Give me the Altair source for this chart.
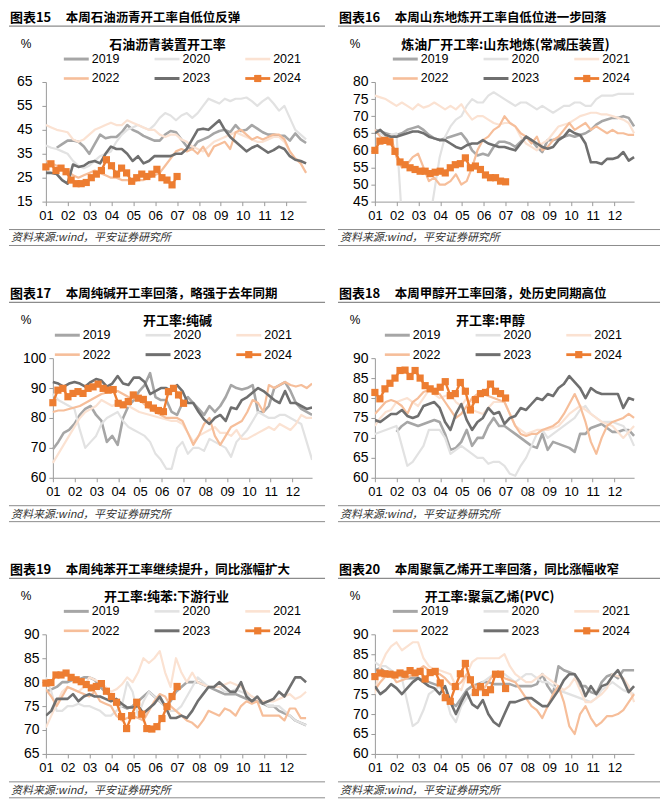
import altair as alt
import pandas as pd

CJK = "Noto Sans CJK SC"
NUM = "Liberation Sans"
AX = "#9A9A9A"
MONTHS = ["01", "02", "03", "04", "05", "06", "07", "08", "09", "10", "11", "12"]
YEARS = ["2019", "2020", "2021", "2022", "2023", "2024"]
COLORS = {"2019": "#A6A6A6", "2020": "#E2E2E2", "2021": "#FBE2D2", "2022": "#F6BE9A", "2023": "#6F6F6F", "2024": "#ED7D31"}
WIDTHS = {"2019": 2.6, "2020": 2.2, "2021": 2.2, "2022": 2.2, "2023": 2.6, "2024": 2.4}
SOURCE = "资料来源:wind，平安证券研究所"

# ---------------- panel 1: 石油沥青 ----------------
p1_2019 = [None, None, 37.5, 39, 40.5, 40.5, 40, 38, 35, 39, 43, 41.5, 42, 42, 44, 47, 45, 44, 42.5, 41.5, 40.5, 40.5, 43, 44.5, 44, 41, 38, 37, 40, 41, 42, 43.5, 44.5, 45, 44, 47, 44.5, 45, 47, 45.5, 44, 43, 43, 42.5, 42.5, 40.5, 43.5, 41, 39.5]
p1_2020 = [38.5, 37.5, 37, 36, 35, 32, 30, 29, 30, 32, 34, 35, 36, 40, 43, 45, 46, 47, 46, 45, 47, 50, 52, 51, 49, 51, 52, 50, 52, 55, 58, 57, 56, 58, 57, 58, 58, 58.5, 57, 55, 57, 58.5, 56, 53, 55, 50, 45, 43, 41]
p1_2021 = [47, 46, 45, 44.5, 44, 41, 40, 41, 43, 45, 46, 47, 48, 47, 47, 49, 48, 47, 46, 45, 45, 43, 42, 43, 43, 41, 40, 38, 37, 36, 38, 40, 41, 42, 43, 44, 43, 42, 41, 40, 40, 41, 42, 42, 40, 36, 33, 32, 31]
p1_2022 = [32, 31, 30, 29, 28, 26, 25, 26, 27, 28, 27, 26, 25, 25, 24, 24, 23, 24, 24, 25, 26, 27, 30, 33, 36, 37, 36, 37, 35, 38, 34, 38, 39, 40, 37, 44, 45, 43, 41, 42, 41, 42, 43, 43, 41, 36, 33, 31, 27]
p1_2023 = [27, 27, 26.5, 24, 22.5, 30.5, 29.5, 30, 31.5, 32, 31, 35, 38, 37, 37, 35, 32, 34, 31, 32, 34, 34, 34, 34, 35, 35, 37, 41, 45, 45.5, 45, 47, 49, 45, 42, 40, 38, 36, 37.5, 38.5, 37, 35.5, 36.5, 38, 37, 34, 32.5, 32, 31]
p1_2024 = [29.5, 30.8, 28, 29, 27.5, 24, 22.5, 22.5, 23, 25, 26.5, 28, 32.5, 30, 26.5, 29, 27, 23.5, 25, 26.5, 25.5, 26.5, 28.5, 25, 24, 22, 25.5]

# ---------------- panel 2: 山东地炼 ----------------
p2_2019 = [66, 65.5, 65, 64.5, 64.5, 65, 66, 66.5, 67, 66, 64.5, 63.5, 63, 63.5, 64, 64.5, 65, 63, 60, 58.5, 59, 58.5, 61, 62.5, 62.5, 62, 61, 62.5, 64, 63, 61, 59.5, 63, 63, 63.5, 64, 64.5, 64, 64.5, 65, 66, 67.5, 68.5, 69, 69.5, 69.5, 70, 69.5, 67]
p2_2020 = [66, 65, 64, 64.5, 65, 40, 35, 35, 35, 35, 38, 48, 58, 64, 67, 69, 70, 73, 75, 74, 74, 76, 77, 76, 75, 74, 73, 74, 74, 73, 72, 73, 72, 71, 72, 73, 73, 74, 74, 73, 73, 75, 76, 76, 76, 76.5, 76.5, 76.5, 76.5]
p2_2021 = [76, 75.5, 75, 74, 73, 74, 73, 72, 73.5, 72.5, 73, 74, 73, 72, 73, 72, 73.5, 71, 69, 70, 70, 69, 68, 67.5, 68, 68, 67, 64, 62, 61, 60, 62, 63, 65, 67, 67.5, 68, 69, 70, 70.5, 71, 71, 70.5, 70.5, 70, 69.5, 69, 68, 65]
p2_2022 = [66, 64, 63, 64, 58, 55, 56, 58, 59, 55, 51, 52, 50, 50, 51, 53, 50, 51, 55, 60, 63, 64, 66, 67, 70, 68, 67, 65, 64, 62, 64, 60, 61, 63, 64, 66, 68, 66, 67, 68, 66, 67, 66, 65, 66, 65, 65, 64.5, 64.5]
p2_2023 = [65, 66, 64.5, 64, 64, 64.5, 65, 65.5, 65.5, 65, 64, 63.5, 63, 63, 62, 61, 60.5, 61.5, 62, 62, 63, 62, 61.5, 61, 61, 60.5, 60, 62, 64, 63, 62, 61, 60.5, 61, 63, 64, 66, 65, 64.5, 62, 56.5, 56.5, 56, 57.5, 57.5, 58, 59.5, 57, 58]
p2_2024 = [60, 62.7, 62.9, 62.5, 59.7, 56.6, 55.8, 54.9, 54.4, 53.9, 53.9, 53.2, 53.6, 53.9, 53.4, 54.9, 55.8, 56.1, 57.8, 54.9, 55.4, 54.4, 52.8, 52.0, 52.0, 51.0, 50.8]

# ---------------- panel 3: 纯碱 ----------------
p3_2019 = [69.5, 72, 75, 76, 78, 81, 83, 84, 81, 79, 72, 74, 71, 80, 84, 86, 89, 91, 95, 87, 86, 86, 82, 81, 85, 87, 85, 83, 81, 84, 82, 84, 87, 91, 90, 89.5, 90, 91, 82, 82, 84, 90, 91, 92, 89, 85, 83, 82, 81]
p3_2020 = [88, 86, 85, 84, 83, 76, 70, 72, 74, 78, 80, 81, 82, 79, 77, 76, 75, 74, 72, 68, 66, 63, 63, 70, 72, 68, 70, 70, 69, 73, 72, 71, 70, 67, 72, 74, 76, 79, 82, 81, 80, 80, 81, 81, 80, 79, 78, 72, 66]
p3_2021 = [65, 68, 71, 74, 77, 80, 82, 83, 84, 86, 85, 84, 85, 84.5, 84, 83, 82, 81.5, 81, 80.5, 80, 79.5, 79, 79, 78, 75, 72, 74, 75, 76, 77, 75, 75, 74, 76, 73, 73, 74, 75, 76, 77, 76, 78, 77, 76, 78, 81, 80, 80]
p3_2022 = [82, 82.5, 82.5, 83, 83.5, 84, 85, 86, 87, 88, 88.5, 89, 89, 88, 87, 86.5, 86, 84.5, 83, 82, 81, 80, 80, 80, 79, 75, 71, 74, 78, 80, 74, 71, 74, 77, 78, 79, 82, 86, 85, 82, 91, 90, 91, 92, 91, 90.5, 91, 90, 91.5]
p3_2023 = [92, 91.5, 90.5, 91.5, 92, 91.5, 90.5, 92, 93, 92.5, 90.5, 91.5, 94, 91.5, 91, 93.5, 93.5, 92, 88, 89, 90, 90, 89, 91, 89, 85, 85, 82, 79.5, 78, 80, 81, 79, 83.5, 83, 86, 87, 88.5, 90, 89, 87.5, 86, 85, 89, 85, 85, 84, 83, 83.5]
p3_2024 = [85.1, 89.3, 89.9, 87.1, 88.2, 88.8, 88.2, 89.9, 90.4, 91.3, 89.9, 89.3, 89.5, 84.9, 84.4, 85.5, 87.7, 86.6, 86.2, 84.4, 83.3, 82.5, 82.1, 88.8, 89.9, 87.7, 84.9]

# ---------------- panel 4: 甲醇 ----------------
p4_2019 = [None, None, None, None, 71.5, 73, 74, 73.5, 73, 73.5, 74, 74.5, 74, 71, 67, 67.5, 69, 72, 68, 70, 70, 73, 75, 73, 73, 72, 71, 70, 69, 68, 67.5, 71, 67, 69, 68.5, 68, 67.5, 66.5, 71, 71, 72.5, 73, 73.5, 72.5, 71.5, 71.5, 72, 72, 70.5]
p4_2020 = [71, 71.5, 72, 72.5, 73, 68, 63, 64, 66, 68, 72, 72, 72, 70, 66, 67, 68, 67, 66, 65, 65, 63.5, 64, 64, 63, 61, 60.5, 63, 65, 68, 71, 72, 70, 71, 72, 73, 74, 75, 77, 78, 76, 75, 74, 74, 74, 73.5, 73, 71, 68]
p4_2021 = [73, 75, 76.5, 77, 79, 79.5, 80, 79, 78, 80, 82, 81, 80, 80.5, 81, 79, 78, 80, 77, 76.5, 76, 77.5, 79, 79, 79, 76, 73, 72, 71, 71.5, 72, 72, 72, 72.5, 73, 74.5, 76, 77, 78, 77, 76, 75, 74, 73.5, 73, 71.5, 70, 71.5, 73]
p4_2022 = [76, 77.5, 79, 79.5, 79, 78, 76, 79, 80, 81.5, 82, 81.5, 81, 79, 77, 75, 76, 78, 80, 81, 81, 80.5, 80, 79.5, 79, 76, 73, 71, 70.5, 71, 71, 72, 72.5, 73, 74, 76, 78.5, 81, 78, 74, 69, 66, 70, 73, 74, 74.5, 75, 76, 75]
p4_2023 = [74.5, 74, 75, 76, 76, 77, 75.5, 75, 75.5, 78, 78.5, 79, 77.5, 74, 72, 76, 78.5, 74.5, 72, 74, 75, 77.5, 76, 76.5, 73.5, 75, 75.5, 77.5, 77, 78.5, 80, 79.5, 81, 80.5, 82.5, 83.5, 85.5, 84, 82.5, 80, 82.5, 81.5, 81, 81, 81, 81, 77.5, 80, 79.5]
p4_2024 = [81.4, 79.8, 82.3, 83.7, 85, 86.9, 87, 85.4, 86.9, 85, 83.1, 82.3, 81.7, 82.7, 84.1, 80.6, 81.1, 83.9, 81.7, 77, 79.6, 81.1, 81.4, 83.5, 81.7, 81.1, 80]

# ---------------- panel 5: 纯苯 ----------------
p5_2019 = [78, 78.5, 79, 80, 80, 80.5, 80.5, 81, 81, 80.5, 79, 78, 77, 76, 75, 74.5, 75, 76, 77, 78, 77, 76, 75, 76, 78, 79, 80, 80, 80, 79.5, 79, 78.5, 78, 77.5, 77.5, 77.5, 77, 76.5, 76, 76, 75.5, 75, 75, 74, 73.5, 73, 72, 71.5, 71]
p5_2020 = [81, 78, 74, 74, 75, 75, 75.5, 75, 75, 74.5, 74, 73, 73, 74, 75, 80, 78, 73, 76, 78, 77, 76, 75, 74, 74, 75, 77, 79, 81, 80, 79, 79, 79, 78, 78, 78.5, 78, 77.5, 77, 76.5, 76, 75, 75, 75, 74, 73, 72, 71.5, 71]
p5_2021 = [70.5, 73, 75.5, 78, 79, 78.5, 78, 79, 81, 80.5, 80, 79, 78, 78.5, 79.5, 81, 80, 82, 85, 84, 85, 86.5, 82, 79, 85, 82, 80, 82, 80, 79.5, 79, 79, 79, 79.5, 80, 79.5, 79, 78, 77, 76.5, 76, 76, 76, 76.5, 77, 77.5, 76.5, 77, 78]
p5_2022 = [78.5, 77, 75, 77, 79, 78.5, 78, 77.5, 77, 78, 76, 75.5, 75, 73, 72, 72.5, 73, 72.5, 72, 74, 76, 77.5, 77, 75, 74, 73, 72, 71.5, 70.5, 72, 74, 73.5, 73, 74.5, 74, 73, 75, 76, 75.5, 76, 73, 73, 73, 73, 72, 74.5, 74.5, 72.5, 72.5]
p5_2023 = [73, 74, 76.5, 76.5, 76.5, 77.5, 76, 77, 77.5, 77, 77, 76.5, 76, 76.5, 75.5, 74.7, 74.7, 75, 73.5, 74.5, 75.5, 77, 75, 72.5, 72.5, 73, 72.5, 74, 76, 77.5, 79, 79, 80, 79, 78, 78, 80, 77, 76, 77, 75.5, 76, 76.5, 78, 77, 79, 81, 81, 80]
p5_2024 = [79.8, 79.9, 81.5, 81.5, 81.9, 81, 80.5, 80.1, 79.5, 78.8, 79.1, 79.7, 78.1, 77, 75.8, 72.8, 70.3, 73, 75.8, 73.3, 70.3, 70.2, 70.7, 72.4, 74.9, 77, 79.1]

# ---------------- panel 6: PVC ----------------
p6_2019 = [81, 81.5, 80.5, 80, 80, 79.5, 79, 79, 79, 78.5, 78, 77.5, 77, 75, 73, 72, 74, 76, 77, 77.5, 78, 78, 77.5, 77.5, 77.5, 77.5, 77, 77, 77, 77, 77.5, 80, 77, 75, 82, 81, 80.5, 80, 77, 77, 75.5, 75, 78, 79.5, 80, 79, 81, 81, 81]
p6_2020 = [83, 82, 82, 81, 80, 79, 73, 67, 68, 71, 75, 76, 77, 75, 70, 68, 72, 74, 75, 77, 78, 79, 80, 80, 80, 79, 78, 79, 80, 80, 79, 78, 78, 77, 76, 75.5, 75, 74.5, 74, 73.5, 73, 74, 76, 77, 78, 77, 76, 75.5, 75]
p6_2021 = [75, 82, 85, 87, 88, 86, 87, 88, 88, 84, 82, 81, 81, 80.5, 80, 77, 76, 80, 83, 84, 84, 84, 84, 84, 85, 82, 80, 79, 78, 78, 79, 80, 79, 78, 77, 76, 77, 79, 76, 73, 73, 74, 75, 76.5, 80, 79.5, 79, 77, 73]
p6_2022 = [76, 78, 79.5, 80, 78, 78.5, 79, 80, 81, 82, 81, 80, 80, 79, 77.5, 77, 78, 80, 78, 76, 76, 78, 80, 79.5, 79, 78.5, 78, 76, 74, 72, 71, 69, 72, 75, 77, 73, 67, 65, 70, 72, 69, 67, 68, 69.5, 69.5, 70, 71, 73, 75]
p6_2023 = [77, 75, 76, 77.5, 76.5, 75, 76.5, 78, 79, 78, 77, 76.5, 75, 77, 73, 70, 73, 75.5, 72.5, 71.5, 73.5, 70, 68, 67, 70, 73, 73, 73.5, 74, 74, 73, 72, 72, 74, 76, 78.5, 80, 80, 78, 74.5, 77, 75, 77, 77.5, 79.5, 81, 78.5, 75.5, 77]
p6_2024 = [79.4, 80.3, 80.1, 80, 79.8, 80.3, 80, 80.9, 80.3, 80.7, 78.8, 80.4, 80.7, 77.8, 74.1, 73.2, 76.9, 80.1, 82.7, 78.6, 75.4, 76.9, 75.4, 76.1, 80, 80, 76.4]

PANELS = [
    dict(tag="图表15", head="本周石油沥青开工率自低位反弹", title="石油沥青装置开工率",
         yr=(15, 65, 10), hist=[p1_2019, p1_2020, p1_2021, p1_2022, p1_2023], cur=p1_2024,
         px0=0, pw=261, title_x=122, leg_x=18, ypad=10, right=280),
    dict(tag="图表16", head="本周山东地炼开工率自低位进一步回落", title="炼油厂开工率:山东地炼(常减压装置)",
         yr=(45, 80, 5), hist=[p2_2019, p2_2020, p2_2021, p2_2022, p2_2023], cur=p2_2024,
         px0=0, pw=260, title_x=131, leg_x=18, ypad=3, right=286),
    dict(tag="图表17", head="本周纯碱开工率回落，略强于去年同期", title="开工率:纯碱",
         yr=(60, 100, 10), hist=[p3_2019, p3_2020, p3_2021, p3_2022, p3_2023], cur=p3_2024,
         px0=7, pw=260, title_x=132, leg_x=9, ypad=3, right=280),
    dict(tag="图表18", head="本周甲醇开工率回落，处历史同期高位", title="开工率:甲醇",
         yr=(60, 90, 5), hist=[p4_2019, p4_2020, p4_2021, p4_2022, p4_2023], cur=p4_2024,
         px0=0, pw=260, title_x=116, leg_x=10, ypad=3, right=286),
    dict(tag="图表19", head="本周纯苯开工率继续提升，同比涨幅扩大", title="开工率:纯苯:下游行业",
         yr=(65, 90, 5), hist=[p5_2019, p5_2020, p5_2021, p5_2022, p5_2023], cur=p5_2024,
         px0=0, pw=261, title_x=121, leg_x=18, ypad=3, right=280),
    dict(tag="图表20", head="本周聚氯乙烯开工率回落，同比涨幅收窄", title="开工率:聚氯乙烯(PVC)",
         yr=(60, 90, 5), hist=[p6_2019, p6_2020, p6_2021, p6_2022, p6_2023], cur=p6_2024,
         px0=0, pw=260, title_x=115, leg_x=18, ypad=3, right=286),
]

VIEW_W = 267
VIEW_H = 120
MONTH_EXPR = "[" + ",".join("'%s'" % m for m in MONTHS) + "][datum.value]"


def one():
    return pd.DataFrame({"k": [0]})


def txt(s, x, y, size, weight="normal", align="left", font=CJK, style="normal", color="#000000"):
    return alt.Chart(pd.DataFrame({"s": [s]})).mark_text(
        font=font, fontSize=size, fontWeight=weight, fontStyle=style,
        align=align, baseline="middle", color=color
    ).encode(x=alt.value(x), y=alt.value(y), text="s:N")


def rule(x1, x2, y, color, width, opacity=1.0):
    return alt.Chart(one()).mark_rule(color=color, strokeWidth=width, opacity=opacity).encode(
        x=alt.value(x1), x2=alt.value(x2), y=alt.value(y))


def panel(p):
    ymin, ymax, ystep = p["yr"]
    px0, pw = p["px0"], p["pw"]
    xs = alt.Scale(domain=[0, 11.9], range=[px0, px0 + pw], nice=False, zero=False)
    ys = alt.Scale(domain=[ymin, ymax], nice=False, zero=False)
    xax = alt.Axis(values=list(range(12)), labelExpr=MONTH_EXPR, grid=False, title=None,
                   domainColor=AX, tickColor=AX, tickSize=4, labelFont=NUM, labelFontSize=13,
                   labelColor="#000000", labelPadding=4, labelOverlap=False, labelFlush=False)
    yax = alt.Axis(values=list(range(ymin, ymax + 1, ystep)), grid=False, title=None,
                   domainColor=AX, tickColor=AX, tickSize=4, labelFont=NUM, labelFontSize=14,
                   labelColor="#000000", labelPadding=p["ypad"], labelOverlap=False,
                   labelFlush=False, offset=-px0)
    xe = alt.X("t:Q", scale=xs, axis=xax)
    ye = alt.Y("v:Q", scale=ys, axis=yax)

    layers = []
    for yr, vals in zip(YEARS[:5], p["hist"]):
        df = pd.DataFrame({"t": [i * 11.9 / 48 for i in range(len(vals))], "v": vals})
        layers.append(alt.Chart(df).mark_line(color=COLORS[yr], strokeWidth=WIDTHS[yr], clip=True,
                                              strokeJoin="round").encode(x=xe, y=ye))
    cur = p["cur"]
    dfc = pd.DataFrame({"t": [i * 12 / 52 for i in range(len(cur))], "v": cur})
    layers.append(alt.Chart(dfc).mark_line(color=COLORS["2024"], strokeWidth=WIDTHS["2024"]).encode(x=xe, y=ye))
    layers.append(alt.Chart(dfc).mark_square(color=COLORS["2024"], size=52, opacity=1).encode(x=xe, y=ye))

    # invisible top guide so that the header text keeps a little room above it
    layers.append(rule(-37, -36, -72.5, "#FFFFFF", 1, opacity=0))
    # header
    layers.append(txt(p["tag"], -36, -64, 13, weight="bold"))
    layers.append(txt(p["head"], 20, -64, 12.5, weight="bold"))
    layers.append(rule(-37, p["right"], -56, "#8C8C8C", 1.2))
    # unit + title
    layers.append(txt("%", -20, -38, 12, align="center", font=NUM))
    layers.append(txt(p["title"], p["title_x"], -37, 13, weight="bold", align="center"))
    # legend
    for k, yr in enumerate(YEARS):
        col, row = k % 3, k // 3
        lx = p["leg_x"] + col * 91
        ly = -23 if row == 0 else -3.5
        layers.append(rule(lx, lx + 25, ly, COLORS[yr], WIDTHS[yr] + 0.4))
        layers.append(txt(yr, lx + 28, ly, 12.5, font=NUM))
        if yr == "2024":
            layers.append(alt.Chart(one()).mark_square(color=COLORS[yr], size=52, opacity=1).encode(
                x=alt.value(lx + 12.5), y=alt.value(ly)))
    # source
    layers.append(rule(-37, p["right"], VIEW_H + 28, "#8C8C8C", 1))
    layers.append(txt(SOURCE, -35, VIEW_H + 37, 11, style="italic", color="#333333"))
    layers.append(rule(-37, p["right"], VIEW_H + 44, "#8C8C8C", 1))

    return alt.layer(*layers).properties(width=VIEW_W, height=VIEW_H)


chart = alt.concat(
    *[panel(p) for p in PANELS],
    columns=2, spacing={"row": 157, "column": 63}, bounds="flush", align="all"
).properties(
    padding={"left": 0, "top": 0, "right": 2, "bottom": 2}
).configure_view(stroke=None)

chart.save("out.html", embed_options={"renderer": "svg", "actions": False})
